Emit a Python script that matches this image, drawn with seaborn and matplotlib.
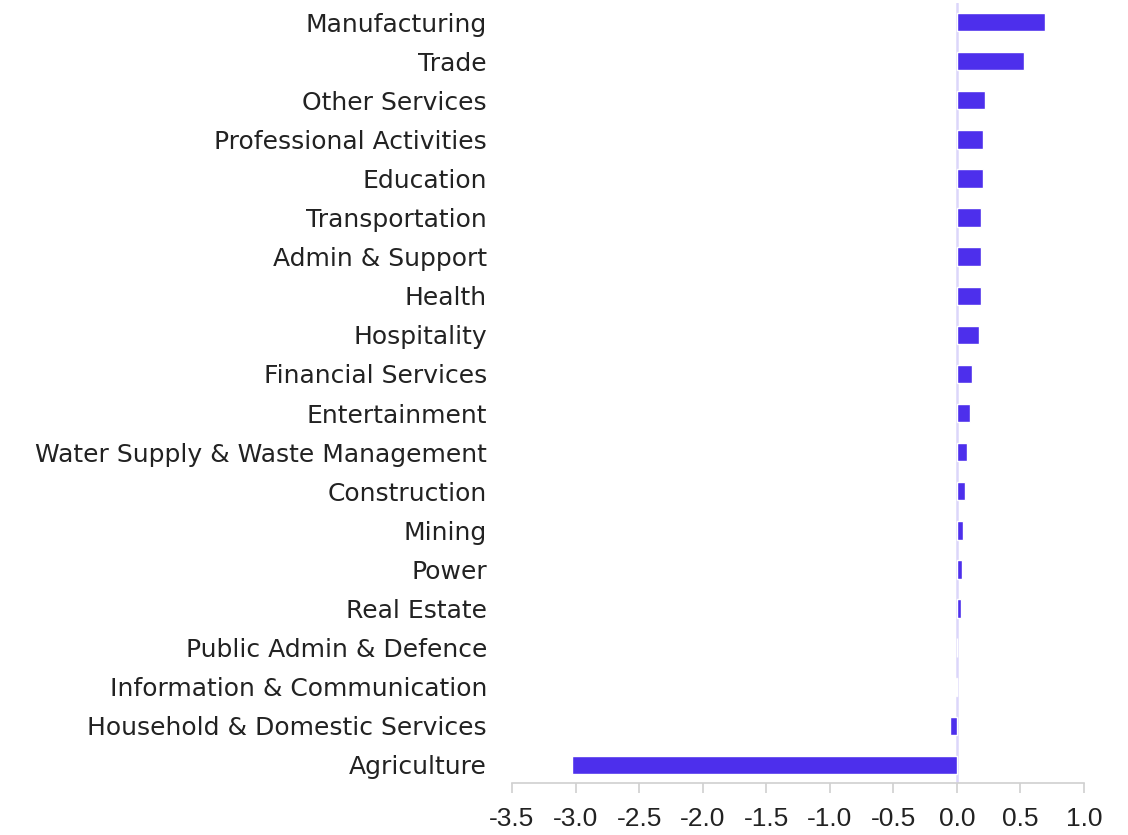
import matplotlib
matplotlib.use("Agg")
import matplotlib.pyplot as plt
import seaborn as sns
import pandas as pd

sectors = [
    "Manufacturing", "Trade", "Other Services", "Professional Activities",
    "Education", "Transportation", "Admin & Support", "Health", "Hospitality",
    "Financial Services", "Entertainment", "Water Supply & Waste Management",
    "Construction", "Mining", "Power", "Real Estate", "Public Admin & Defence",
    "Information & Communication", "Household & Domestic Services", "Agriculture",
]
change = [
    0.69, 0.53, 0.225, 0.205, 0.205, 0.19, 0.19, 0.19, 0.17, 0.115, 0.10,
    0.08, 0.06, 0.05, 0.04, 0.03, 0.0, -0.01, -0.055, -3.03,
]
x_ticks = [-3.5, -3.0, -2.5, -2.0, -1.5, -1.0, -0.5, 0.0, 0.5, 1.0]

df = pd.DataFrame({"sector": sectors, "change": change})

sns.set_theme(style="white")
plt.rcParams["font.family"] = ["DejaVu Sans"]

fig = plt.figure(figsize=(11.28, 8.35), dpi=100)
ax = fig.add_axes([0.4539, 0.0623, 0.5071, 0.9347])

ax.axvline(0, color="#dcd6fa", lw=1.8, zorder=0)
sns.barplot(data=df, x="change", y="sector", orient="h", color="#4d2fec",
            saturation=1, width=0.47, ax=ax, zorder=2)

ax.set_xlim(-3.5, 1.0)
ax.set_ylim(19.46, -0.5)
ax.set_xticks(x_ticks)
ax.set_xticklabels([f"{t:.1f}" for t in x_ticks], fontfamily="Liberation Sans",
                   fontsize=19, color="#222222")
ax.set_xlabel("")
ax.set_ylabel("")

for side in ["top", "right", "left"]:
    ax.spines[side].set_visible(False)
ax.spines["bottom"].set_color("#d0d0d0")
ax.spines["bottom"].set_linewidth(1.2)

ax.tick_params(axis="x", bottom=True, length=7, width=1.2, color="#d0d0d0", pad=10)
ax.tick_params(axis="y", left=False, length=0, pad=18, labelsize=18, labelcolor="#222222")

fig.savefig("out.png", dpi=100, facecolor="white")
